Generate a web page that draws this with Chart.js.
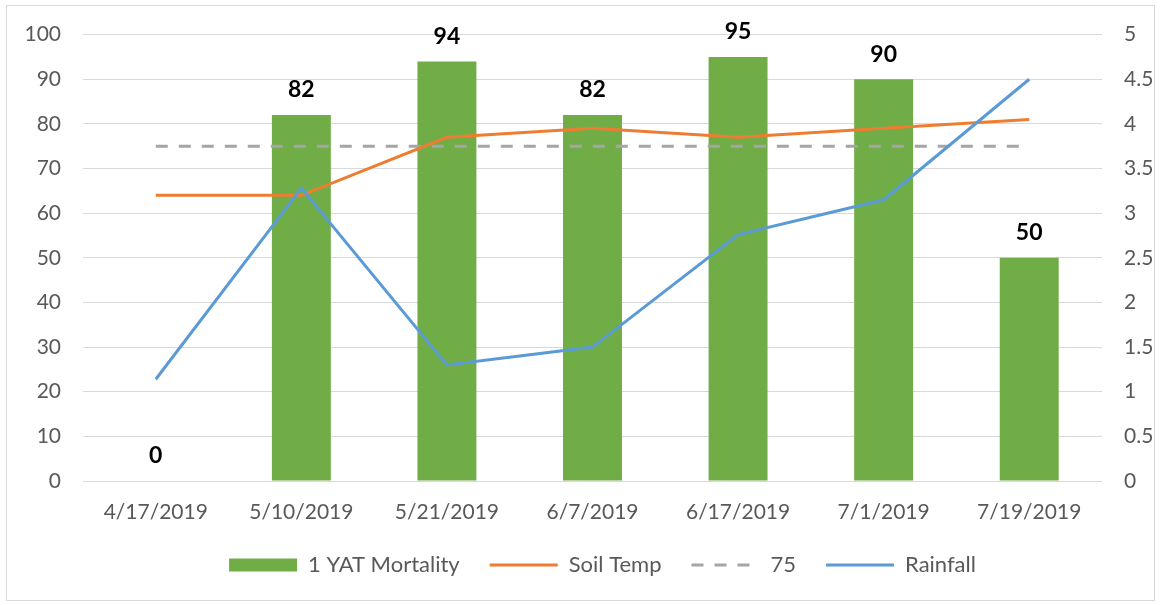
<!DOCTYPE html>
<html>
<head>
<meta charset="utf-8">
<script src="https://cdn.jsdelivr.net/npm/chart.js@4/dist/chart.umd.min.js"></script>
<style>
  html, body { margin: 0; padding: 0; background: #fff; }
</style>
</head>
<body>
<canvas id="grafica" width="1161" height="605"></canvas>
<script>
// datos
const fechas = ['4/17/2019', '5/10/2019', '5/21/2019', '6/7/2019', '6/17/2019', '7/1/2019', '7/19/2019']
const mortalidad = [0, 82, 94, 82, 95, 90, 50]
const tempSuelo = [64, 64, 77, 79, 77, 79, 81]
const referencia = [75, 75, 75, 75, 75, 75, 75]
const lluvia = [1.14, 3.28, 1.3, 1.5, 2.76, 3.15, 4.5]
const ticksIzq = [0, 10, 20, 30, 40, 50, 60, 70, 80, 90, 100]
const ticksDer = [0, 0.5, 1, 1.5, 2, 2.5, 3, 3.5, 4, 4.5, 5]

Chart.defaults.font.family = 'Lato'
Chart.defaults.font.size = 21
Chart.defaults.color = '#595959'

const estilosLeyenda = ['rect', 'line', 'line', 'line']

// marco gris y fondo blanco
const marco = {
  id: 'marco',
  beforeDraw(chart) {
    const ctx = chart.ctx
    ctx.save()
    ctx.fillStyle = '#fff'
    ctx.fillRect(0, 0, chart.width, chart.height)
    ctx.strokeStyle = '#d9d9d9'
    ctx.lineWidth = 1
    ctx.strokeRect(6.5, 5.5, 1148, 595)
    ctx.restore()
  }
}

// etiquetas de valor sobre las barras
const etiquetas = {
  id: 'etiquetas',
  afterDatasetsDraw(chart) {
    const ctx = chart.ctx
    const meta = chart.getDatasetMeta(0)
    ctx.save()
    ctx.font = 'bold 23px Lato'
    ctx.fillStyle = '#000'
    ctx.textAlign = 'center'
    ctx.textBaseline = 'middle'
    meta.data.forEach((bar, i) => {
      ctx.fillText(String(mortalidad[i]), bar.x, bar.y - 25)
    })
    ctx.restore()
  }
}

// mover la leyenda un poco a la derecha como en el original
const moverLeyenda = {
  id: 'moverLeyenda',
  afterLayout(chart) {
    chart.legend.left += 22
    chart.legend.right += 22
  }
}

const graphic = document.getElementById('grafica')
new Chart(graphic, {
  data: {
    labels: fechas,
    datasets: [
      {
        type: 'bar',
        label: '1 YAT Mortality',
        data: mortalidad,
        backgroundColor: '#70AD47',
        borderWidth: 0,
        categoryPercentage: 1,
        barPercentage: 0.405,
        yAxisID: 'y',
        order: 3
      },
      {
        type: 'line',
        label: 'Soil Temp',
        data: tempSuelo,
        borderColor: '#ED7D31',
        backgroundColor: '#ED7D31',
        borderWidth: 3,
        pointRadius: 0,
        tension: 0,
        yAxisID: 'y',
        order: 1
      },
      {
        type: 'line',
        label: '75',
        data: referencia,
        borderColor: '#A5A5A5',
        backgroundColor: '#A5A5A5',
        borderWidth: 3,
        borderDash: [12, 11],
        pointRadius: 0,
        tension: 0,
        yAxisID: 'y',
        order: 2
      },
      {
        type: 'line',
        label: 'Rainfall',
        data: lluvia,
        borderColor: '#5B9BD5',
        backgroundColor: '#5B9BD5',
        borderWidth: 3,
        pointRadius: 0,
        tension: 0,
        yAxisID: 'y1',
        order: 0
      }
    ]
  },
  options: {
    responsive: false,
    animation: false,
    devicePixelRatio: 1,
    layout: { padding: { top: 34, left: 0, right: 0, bottom: 19 } },
    plugins: {
      tooltip: { enabled: false },
      legend: {
        position: 'bottom',
        labels: {
          usePointStyle: true,
          pointStyleWidth: 68,
          boxHeight: 13,
          padding: 30,
          color: '#595959',
          font: { size: 22 },
          sort: (a, b) => a.datasetIndex - b.datasetIndex,
          generateLabels(chart) {
            const items = Chart.defaults.plugins.legend.labels.generateLabels(chart)
            items.forEach(it => {
              const ds = chart.data.datasets[it.datasetIndex]
              it.pointStyle = estilosLeyenda[it.datasetIndex]
              if (ds.type === 'line') {
                it.lineWidth = 3
                it.strokeStyle = ds.borderColor
                it.lineDash = ds.borderDash || []
              }
            })
            return items
          }
        }
      }
    },
    scales: {
      x: {
        grid: { display: false },
        border: { display: false },
        ticks: { padding: 11, maxRotation: 0 },
        afterFit(s) { s.height = 43 }
      },
      y: {
        position: 'left',
        min: 0,
        max: 100,
        border: { display: false },
        grid: { color: '#d9d9d9', lineWidth: 1, drawTicks: false },
        afterBuildTicks(s) { s.ticks = ticksIzq.map(v => ({ value: v })) },
        ticks: { padding: 22 },
        afterFit(s) { s.width = 83 }
      },
      y1: {
        position: 'right',
        min: 0,
        max: 5,
        border: { display: false },
        grid: { display: false, drawTicks: false },
        afterBuildTicks(s) { s.ticks = ticksDer.map(v => ({ value: v })) },
        ticks: { padding: 22, callback: v => String(v) },
        afterFit(s) { s.width = 59 }
      }
    }
  },
  plugins: [marco, etiquetas, moverLeyenda]
})
</script>
</body>
</html>
